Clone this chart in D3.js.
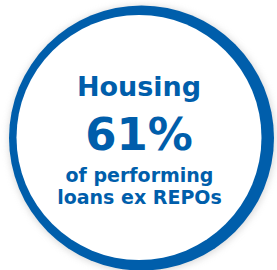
<!DOCTYPE html>
<html>
<head>
<meta charset="utf-8">
<script src="https://cdn.jsdelivr.net/npm/d3@7"></script>
<style>
  html, body { margin: 0; padding: 0; background: #fff; }
  svg { display: block; }
</style>
</head>
<body>
<script>
// Data
var category = ["Housing"];
var shareValues = [61];
var captionLines = ["of performing", "loans ex REPOs"];

(function() {
  var width = 277,
      height = 270,
      blue = "#005EAB";

  var svg = d3.select("body")
      .append("svg")
      .attr("width", width)
      .attr("height", height);

  var defs = svg.append("defs");
  var blur = defs.append("filter")
      .attr("id", "shadow")
      .attr("x", "-20%").attr("y", "-20%")
      .attr("width", "140%").attr("height", "140%");
  blur.append("feGaussianBlur").attr("stdDeviation", 3);

  // soft shadow
  svg.append("circle")
      .attr("cx", 142).attr("cy", 139).attr("r", 134)
      .attr("fill", "#c8c8c8")
      .attr("opacity", 0.6)
      .attr("filter", "url(#shadow)");

  // outer ring
  svg.append("circle")
      .attr("class", "ring")
      .attr("cx", 141.5).attr("cy", 138).attr("r", 132.5)
      .attr("fill", blue);

  svg.append("circle")
      .attr("class", "inner")
      .attr("cx", 139).attr("cy", 137.5).attr("r", 122.5)
      .attr("fill", "#fff");

  var cx = 139;
  var font = "'DejaVu Sans', sans-serif";

  svg.selectAll(".cat")
      .data(category)
      .enter()
      .append("text")
      .attr("class", "cat")
      .attr("x", cx).attr("y", 96)
      .attr("text-anchor", "middle")
      .attr("font-family", font)
      .attr("font-weight", 700)
      .attr("font-size", 27)
      .attr("fill", blue)
      .text(function(d) { return d; });

  svg.selectAll(".val")
      .data(shareValues)
      .enter()
      .append("text")
      .attr("class", "val")
      .attr("x", cx).attr("y", 150)
      .attr("text-anchor", "middle")
      .attr("font-family", font)
      .attr("font-weight", 700)
      .attr("font-size", 45)
      .attr("fill", blue)
      .text(function(d) { return d + "%"; });

  svg.selectAll(".cap")
      .data(captionLines)
      .enter()
      .append("text")
      .attr("class", "cap")
      .attr("x", cx + 0.5)
      .attr("y", function(d, i) { return 182 + i * 22; })
      .attr("text-anchor", "middle")
      .attr("font-family", font)
      .attr("font-weight", 700)
      .attr("font-size", 19)
      .attr("fill", blue)
      .text(function(d) { return d; });
})();
</script>
</body>
</html>
